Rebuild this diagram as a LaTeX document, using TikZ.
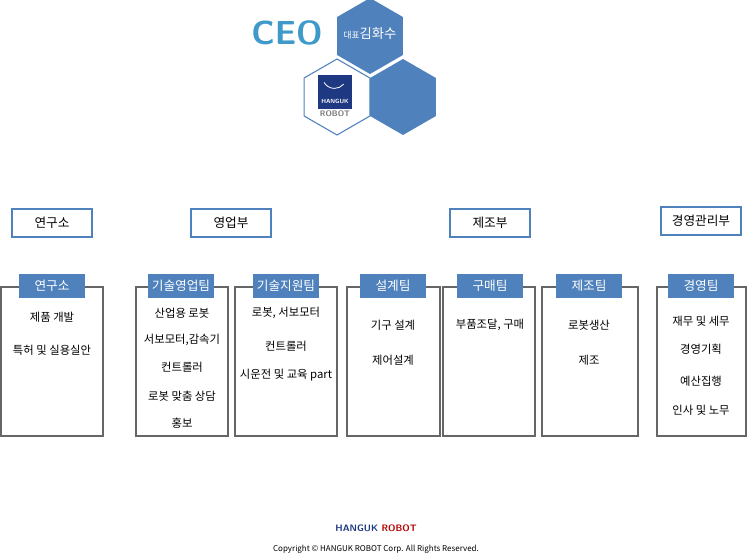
\documentclass[tikz,border=0pt]{standalone}
\usepackage{fontspec}
\setmainfont{Noto Sans CJK KR}
\usetikzlibrary{shapes.geometric}
\definecolor{hexblue}{RGB}{79,129,189}
\definecolor{logoblue}{RGB}{31,56,130}
\tikzstyle{dept} = [rectangle, draw=hexblue, line width=1.2pt, minimum width=60pt, minimum height=21pt, font=\fontsize{9.5}{11}\selectfont]
\tikzstyle{teambox} = [rectangle, draw=black!60, line width=0.8pt, anchor=north west]
\tikzstyle{teamlabel} = [rectangle, fill=hexblue, text=white, minimum width=49pt, minimum height=18pt, inner sep=0pt, font=\fontsize{9.5}{11}\selectfont]
\tikzstyle{item} = [font=\fontsize{8.5}{10}\selectfont, inner sep=0pt]
\tikzstyle{hex} = [regular polygon, regular polygon sides=6, minimum size=57pt, inner sep=0pt, shape border rotate=30]
\begin{document}
\begin{tikzpicture}[x=0.75pt, y=-0.75pt]
    \useasboundingbox (0,0) rectangle (748,557);
    % CEO
    \node (ceo) at (287,33) [text=hexblue!80!cyan, font=\fontsize{25}{25}\sffamily\bfseries] {CEO};
    \node (hexname) at (370,36) [hex, fill=hexblue] {};
    \node (name) at (370,34) [text=white, inner sep=0pt] {\fontsize{6.5}{7}\selectfont 대표\fontsize{10}{11}\selectfont 김화수};
    \node (hexlogo) at (337,97) [hex, draw=hexblue, fill=white, line width=0.8pt] {};
    \node (hexside) at (403,97) [hex, fill=hexblue] {};
    \node (logo) at (335,92) [rectangle, fill=logoblue, minimum width=25pt, minimum height=26pt, inner sep=0pt] {};
    \node (logotext) at (335,101) [text=white, font=\fontsize{4.5}{5}\sffamily\bfseries] {HANGUK};
    \node (logorobot) at (335,114) [text=black!55, font=\fontsize{6}{6}\sffamily\bfseries, inner sep=0pt] {ROBOT};
    \draw [white, line width=0.6pt] (logo.north west) ++(6,8) arc (150:40:12);
    % departments
    \node (d1) at (52,223) [dept] {연구소};
    \node (d2) at (231,223) [dept] {영업부};
    \node (d3) at (490,223) [dept] {제조부};
    \node (d4) at (701,221) [dept] {경영관리부};
    % teams
    \draw [teambox] (1,287) rectangle (103,436);
    \draw [teambox] (136,287) rectangle (228,436);
    \draw [teambox] (235,287) rectangle (337,436);
    \draw [teambox] (347,287) rectangle (440,436);
    \draw [teambox] (443,287) rectangle (535,436);
    \draw [teambox] (542,287) rectangle (638,436);
    \draw [teambox] (657,287) rectangle (746,436);
    \node (t1) at (52,286) [teamlabel] {연구소};
    \node (t2) at (181,286) [teamlabel] {기술영업팀};
    \node (t3) at (286,286) [teamlabel] {기술지원팀};
    \node (t4) at (393,286) [teamlabel] {설계팀};
    \node (t5) at (490,286) [teamlabel] {구매팀};
    \node (t6) at (589,286) [teamlabel] {제조팀};
    \node (t7) at (701,286) [teamlabel] {경영팀};
    % items
    \node (i11) at (52,317) [item] {제품 개발};
    \node (i12) at (52,350) [item] {특허 및 실용실안};
    \node (i21) at (182,313) [item] {산업용 로봇};
    \node (i22) at (182,340) [item] {서보모터,감속기};
    \node (i23) at (182,367) [item] {컨트롤러};
    \node (i24) at (182,396) [item] {로봇 맞춤 상담};
    \node (i25) at (182,423) [item] {홍보};
    \node (i31) at (286,313) [item] {로봇, 서보모터};
    \node (i32) at (286,346) [item] {컨트롤러};
    \node (i33) at (286,375) [item] {시운전 및 교육 part};
    \node (i41) at (393,325) [item] {기구 설계};
    \node (i42) at (393,360) [item] {제어설계};
    \node (i51) at (490,325) [item] {부품조달, 구매};
    \node (i61) at (589,325) [item] {로봇생산};
    \node (i62) at (589,360) [item] {제조};
    \node (i71) at (701,321) [item] {재무 및 세무};
    \node (i72) at (701,349) [item] {경영기획};
    \node (i73) at (701,381) [item] {예산집행};
    \node (i74) at (701,410) [item] {인사 및 노무};
    % footer
    \node (brand) at (376,528) [font=\fontsize{7}{8}\sffamily\bfseries] {\textcolor{logoblue}{HANGUK} \textcolor{red!70!black}{ROBOT}};
    \node (copy) at (376,549) [font=\fontsize{6}{7}\selectfont] {Copyright © HANGUK ROBOT Corp. All Rights Reserved.};
\end{tikzpicture}
\end{document}
